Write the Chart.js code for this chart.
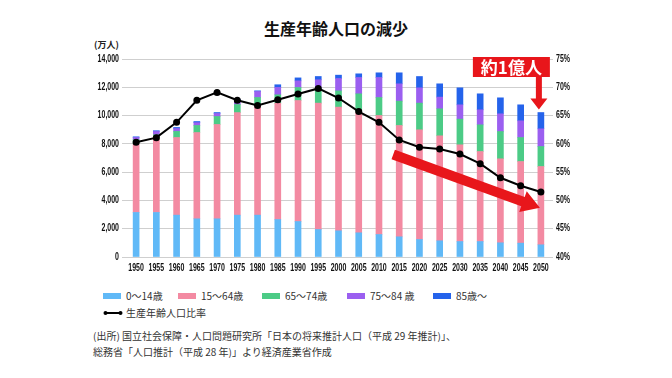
<!DOCTYPE html>
<html lang="ja">
<head>
<meta charset="utf-8">
<script src="https://cdn.jsdelivr.net/npm/chart.js@4.4.1/dist/chart.umd.min.js"></script>
<style>
  body { margin: 0; background: #fff; width: 672px; height: 378px; overflow: hidden; position: relative;
         font-family: "Noto Sans CJK JP", "Noto Sans", sans-serif; color: #333; }
  #wrap { position: absolute; left: 0; top: 0; width: 672px; height: 285px; }
  .title { position: absolute; top: 16px; left: 0; width: 672px; text-align: center;
           font-size: 16px; font-weight: bold; color: #111; }
  .unit { position: absolute; top: 38px; left: 94px; font-size: 9px; font-weight: bold; color: #222; }
  .leg { position: absolute; font-size: 10px; line-height: 12px; white-space: nowrap; }
  .box { display: inline-block; width: 18px; height: 6px; margin-right: 5px; vertical-align: 1px; }
  .note { position: absolute; left: 93px; font-size: 10px; line-height: 12px; white-space: nowrap; color: #333; }
</style>
</head>
<body>
<div class="title">生産年齢人口の減少</div>
<div class="unit">(万人)</div>
<div id="wrap"><canvas id="chart" width="672" height="285"></canvas></div>

<div class="leg" style="left:103px; top:290px;"><span class="box" style="background:#60b9f7"></span>0～14歳</div>
<div class="leg" style="left:178px; top:290px;"><span class="box" style="background:#f38aa2"></span>15～64歳</div>
<div class="leg" style="left:262px; top:290px;"><span class="box" style="background:#4ccb86"></span>65～74歳</div>
<div class="leg" style="left:347px; top:290px;"><span class="box" style="background:#9b5ff0"></span>75～84 歳</div>
<div class="leg" style="left:433px; top:290px;"><span class="box" style="background:#2563eb"></span>85歳～</div>
<div class="leg" style="left:103px; top:307px;">
  <svg width="20" height="8" style="vertical-align:0px; margin-right:3px">
    <line x1="2" y1="4" x2="18" y2="4" stroke="#000" stroke-width="2"/>
    <circle cx="2.5" cy="4" r="2" fill="#000"/><circle cx="17.5" cy="4" r="2" fill="#000"/>
  </svg>生産年齢人口比率</div>
<div class="note" style="top:330px;">(出所) 国立社会保障・人口問題研究所「日本の将来推計人口（平成 29 年推計)」、</div>
<div class="note" style="top:346px;">総務省「人口推計（平成 28 年)」より経済産業省作成</div>

<script>
// 年次
const years = ["1950", "1955", "1960", "1965", "1970", "1975", "1980", "1985", "1990", "1995", "2000",
               "2005", "2010", "2015", "2020", "2025", "2030", "2035", "2040", "2045", "2050"];

// 年齢区分別人口（万人）
const age0to14 = [3150, 3150, 2960, 2700, 2700, 2960, 2960, 2650, 2510, 1945, 1852,
                  1711, 1591, 1428, 1237, 1145, 1096, 1096, 1004, 980, 862];
const age15to64 = [4850, 5190, 5490, 6100, 6670, 7250, 7730, 8230, 8555, 8935, 8746,
                   8533, 8413, 7869, 7756, 7424, 6837, 6363, 5939, 5772, 5536];
const age65to74 = [300, 300, 430, 500, 565, 570, 590, 590, 920, 990, 1150,
                   1294, 1273, 1725, 1887, 1909, 1816, 1887, 1930, 1697, 1414];
const age75to84 = [150, 230, 200, 200, 210, 300, 420, 520, 470, 660, 870,
                   1153, 1414, 1223, 1083, 827, 1012, 1061, 1252, 1181, 1252];
const age85over = [50, 60, 80, 80, 70, 70, 50, 190, 210, 234, 240,
                   261, 332, 778, 799, 940, 1202, 1131, 1130, 1131, 1152];

// 生産年齢人口比率（%）
const workingRatio = [60.3, 61.1, 63.8, 67.7, 69.1, 67.7, 66.8, 67.8, 68.8, 69.8, 68.1,
                      65.7, 63.8, 60.7, 59.4, 59.1, 58.2, 56.5, 54.0, 52.6, 51.5];

// 目盛り
const leftTicks = [0, 2000, 4000, 6000, 8000, 10000, 12000, 14000];
const rightTicks = [40, 45, 50, 55, 60, 65, 70, 75];

// 細長い太字の目盛り文字（横に圧縮して描く）
const narrowTicks = {
    id: "narrowTicks",
    afterDraw(chart) {
        const { ctx, scales } = chart;
        const squeeze = 0.7;
        ctx.save();
        ctx.fillStyle = "#111";
        ctx.font = "bold 10px 'Liberation Sans', Arial, sans-serif";
        ctx.textBaseline = "middle";
        const put = (text, px, py, align) => {
            const w = ctx.measureText(text).width * squeeze;
            let left = px;
            if (align === "center") left = px - w / 2;
            if (align === "right") left = px - w;
            ctx.save();
            ctx.translate(left, py);
            ctx.scale(squeeze, 1);
            ctx.textAlign = "left";
            ctx.fillText(text, 0, 0);
            ctx.restore();
        };
        years.forEach((yr, i) => put(yr, scales.x.getPixelForValue(i), chart.chartArea.bottom + 11, "center"));
        leftTicks.forEach((v) => put(v.toLocaleString("en-US"), chart.chartArea.left - 7, scales.y.getPixelForValue(v), "right"));
        rightTicks.forEach((v) => put(v + "%", chart.chartArea.right + 5, scales.y1.getPixelForValue(v), "left"));
        ctx.restore();
    },
};

// 赤い矢印と「約1億人」
const annotations = {
    id: "annotations",
    afterDatasetsDraw(chart) {
        const { ctx, scales } = chart;
        const x = scales.x, y = scales.y;
        const red = "#e8161b";
        ctx.save();
        ctx.fillStyle = red;

        // 大きな斜めの矢印
        const sx = x.getPixelForValue(13) - 6, sy = y.getPixelForValue(7250);
        const tx = x.getPixelForValue(20) - 1, ty = y.getPixelForValue(3480);
        const ang = Math.atan2(ty - sy, tx - sx);
        const len = Math.hypot(tx - sx, ty - sy);
        ctx.translate(sx, sy);
        ctx.rotate(ang);
        ctx.beginPath();
        ctx.moveTo(0, -5);
        ctx.lineTo(len - 18, -5);
        ctx.lineTo(len - 18, -11);
        ctx.lineTo(len, 0);
        ctx.lineTo(len - 18, 11);
        ctx.lineTo(len - 18, 5);
        ctx.lineTo(0, 5);
        ctx.closePath();
        ctx.fill();
        ctx.setTransform(1, 0, 0, 1, 0, 0);

        // ラベルの箱
        const cx = x.getPixelForValue(20) - 2;
        const boxR = cx + 11, boxL = boxR - 77;
        const boxT = chart.chartArea.top - 2, boxB = boxT + 20;
        ctx.fillRect(boxL, boxT, boxR - boxL, boxB - boxT);
        ctx.fillStyle = "#fff";
        ctx.font = "bold 17px 'Noto Sans CJK JP', sans-serif";
        ctx.textAlign = "center";
        ctx.textBaseline = "middle";
        ctx.fillText("約1億人", (boxL + boxR) / 2, (boxT + boxB) / 2 + 1);

        // 下向き矢印
        const total2050 = age0to14[20] + age15to64[20] + age65to74[20] + age75to84[20] + age85over[20];
        const tip = y.getPixelForValue(total2050) - 3;
        ctx.fillStyle = red;
        ctx.beginPath();
        ctx.moveTo(cx - 3, boxB);
        ctx.lineTo(cx + 3, boxB);
        ctx.lineTo(cx + 3, tip - 11);
        ctx.lineTo(cx + 8.5, tip - 11);
        ctx.lineTo(cx, tip);
        ctx.lineTo(cx - 8.5, tip - 11);
        ctx.lineTo(cx - 3, tip - 11);
        ctx.closePath();
        ctx.fill();
        ctx.restore();
    },
};

const barSet = (label, data, color) => ({
    type: "bar",
    label: label,
    data: data,
    backgroundColor: color,
    barThickness: 6,
    stack: "pop",
    yAxisID: "y",
    order: 1,
});

new Chart(document.getElementById("chart"), {
    data: {
        labels: years,
        datasets: [
            {
                type: "line",
                label: "生産年齢人口比率",
                data: workingRatio,
                borderColor: "#000",
                backgroundColor: "#000",
                borderWidth: 2,
                pointRadius: 2.5,
                tension: 0,
                yAxisID: "y1",
                order: 0,
            },
            barSet("0～14歳", age0to14, "#60b9f7"),
            barSet("15～64歳", age15to64, "#f38aa2"),
            barSet("65～74歳", age65to74, "#4ccb86"),
            barSet("75～84歳", age75to84, "#9b5ff0"),
            barSet("85歳～", age85over, "#2563eb"),
        ],
    },
    options: {
        responsive: false,
        animation: false,
        layout: { padding: { top: 59, left: 90, right: 100, bottom: 8 } },
        plugins: { legend: { display: false }, tooltip: { enabled: false } },
        scales: {
            x: {
                stacked: true,
                grid: { display: false, drawTicks: false },
                border: { display: false },
                ticks: { display: false },
                afterFit: (s) => { s.height = 20; },
            },
            y: {
                stacked: true,
                position: "left",
                min: 0,
                max: 14000,
                afterBuildTicks: (s) => { s.ticks = leftTicks.map((v) => ({ value: v })); },
                grid: { color: "#cfcfcf", lineWidth: 1, tickLength: 4 },
                border: { display: false },
                ticks: { display: false },
                afterFit: (s) => { s.width = 36; },
            },
            y1: {
                position: "right",
                min: 40,
                max: 75,
                afterBuildTicks: (s) => { s.ticks = rightTicks.map((v) => ({ value: v })); },
                grid: { drawOnChartArea: false, color: "#cfcfcf", tickLength: 2 },
                border: { display: false },
                ticks: { display: false },
                afterFit: (s) => { s.width = 21; },
            },
        },
    },
    plugins: [annotations, narrowTicks],
});
</script>
</body>
</html>
